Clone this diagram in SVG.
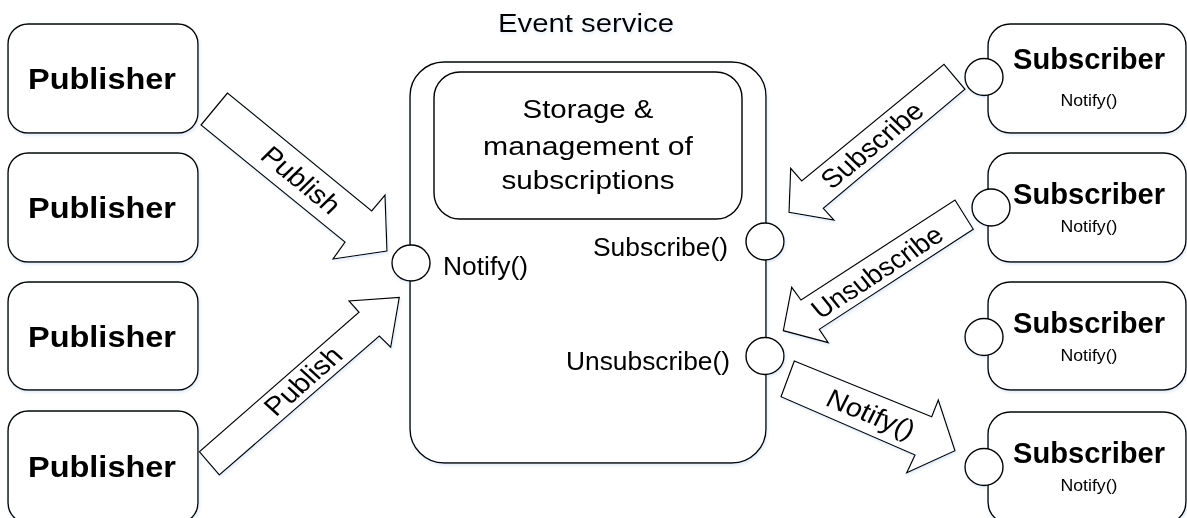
<svg xmlns="http://www.w3.org/2000/svg" width="1187" height="518" viewBox="0 0 1187 518">
  <style>
    .box { fill: #ffffff; stroke: #000000; stroke-width: 1.4; }
    .port { fill: #ffffff; stroke: #000000; stroke-width: 1.4; }
    .arrow { fill: #ffffff; stroke: #000000; stroke-width: 1.2; stroke-linejoin: miter; }
    text { font-family: "Liberation Sans", Arial, sans-serif; fill: #000000; }
    .big { font-size: 29px; font-weight: bold; text-anchor: middle; }
    .lbl { font-size: 26px; }
    .mid { text-anchor: middle; }
    .small { font-size: 17px; text-anchor: middle; }
  </style>
  <defs>
    <filter id="glow" x="-10%" y="-10%" width="125%" height="135%">
      <feGaussianBlur in="SourceAlpha" stdDeviation="1.5"/>
      <feOffset dx="1" dy="2" result="blur"/>
      <feFlood flood-color="#8fb3e0" flood-opacity="0.25"/>
      <feComposite in2="blur" operator="in"/>
      <feMerge>
        <feMergeNode/>
        <feMergeNode in="SourceGraphic"/>
      </feMerge>
    </filter>
  </defs>
  <rect width="1187" height="518" fill="#ffffff"/>

  <g filter="url(#glow)">
    <!-- Publishers -->
    <g id="publisher1">
      <rect class="box" x="8" y="24" width="190" height="109" rx="20"/>
      <text class="big" x="102" y="89" textLength="148" lengthAdjust="spacingAndGlyphs">Publisher</text>
    </g>
    <g id="publisher2">
      <rect class="box" x="8" y="153" width="190" height="109" rx="20"/>
      <text class="big" x="102" y="218" textLength="148" lengthAdjust="spacingAndGlyphs">Publisher</text>
    </g>
    <g id="publisher3">
      <rect class="box" x="8" y="282" width="190" height="108" rx="20"/>
      <text class="big" x="102" y="347" textLength="148" lengthAdjust="spacingAndGlyphs">Publisher</text>
    </g>
    <g id="publisher4">
      <rect class="box" x="8" y="411" width="190" height="112" rx="20"/>
      <text class="big" x="102" y="477" textLength="148" lengthAdjust="spacingAndGlyphs">Publisher</text>
    </g>

    <!-- Event service -->
    <g id="event-service">
      <text class="lbl mid" x="586" y="32" font-size="27" textLength="176" lengthAdjust="spacingAndGlyphs">Event service</text>
      <rect class="box" x="410" y="62" width="356" height="401" rx="34"/>
      <g id="storage">
        <rect class="box" x="434" y="72" width="308" height="147" rx="26"/>
        <text class="lbl mid" x="588" y="118" textLength="131" lengthAdjust="spacingAndGlyphs">Storage &amp;</text>
        <text class="lbl mid" x="588" y="155" textLength="210" lengthAdjust="spacingAndGlyphs">management of</text>
        <text class="lbl mid" x="588" y="189" textLength="173" lengthAdjust="spacingAndGlyphs">subscriptions</text>
      </g>
      <text class="lbl" x="443" y="275" textLength="85" lengthAdjust="spacingAndGlyphs">Notify()</text>
      <text class="lbl" x="593" y="256" textLength="135" lengthAdjust="spacingAndGlyphs">Subscribe()</text>
      <text class="lbl" x="566" y="370" textLength="164" lengthAdjust="spacingAndGlyphs">Unsubscribe()</text>
    </g>

    <!-- Subscribers -->
    <g id="subscriber1">
      <rect class="box" x="988" y="24" width="198" height="109" rx="22"/>
      <text class="big" x="1089" y="69" textLength="152" lengthAdjust="spacingAndGlyphs">Subscriber</text>
      <text class="small" x="1089" y="106" textLength="57" lengthAdjust="spacingAndGlyphs">Notify()</text>
    </g>
    <g id="subscriber2">
      <rect class="box" x="988" y="153" width="198" height="109" rx="22"/>
      <text class="big" x="1089" y="204" textLength="152" lengthAdjust="spacingAndGlyphs">Subscriber</text>
      <text class="small" x="1089" y="232" textLength="57" lengthAdjust="spacingAndGlyphs">Notify()</text>
    </g>
    <g id="subscriber3">
      <rect class="box" x="988" y="282" width="198" height="108" rx="22"/>
      <text class="big" x="1089" y="333" textLength="152" lengthAdjust="spacingAndGlyphs">Subscriber</text>
      <text class="small" x="1089" y="361" textLength="57" lengthAdjust="spacingAndGlyphs">Notify()</text>
    </g>
    <g id="subscriber4">
      <rect class="box" x="988" y="412" width="198" height="112" rx="22"/>
      <text class="big" x="1089" y="463" textLength="152" lengthAdjust="spacingAndGlyphs">Subscriber</text>
      <text class="small" x="1089" y="491" textLength="57" lengthAdjust="spacingAndGlyphs">Notify()</text>
    </g>

    <!-- Block arrows -->
    <g id="connectors">
      <g id="publish-top">
        <polygon class="arrow" points="227.5,93 201,125 345,242 333,259 387,251 385,195 371.7,211"/>
        <text class="lbl mid" transform="translate(301,180) scale(1.12,1) rotate(42.4)" y="9" textLength="86" lengthAdjust="spacingAndGlyphs">Publish</text>
      </g>
      <g id="publish-bottom">
        <polygon class="arrow" points="199.3,451.7 219.3,475 379.3,336 390.7,347.3 399.3,297.3 349,301 359,312.3"/>
        <text class="lbl mid" transform="translate(303,381) scale(1.12,1) rotate(-44.4)" y="9" textLength="86" lengthAdjust="spacingAndGlyphs">Publish</text>
      </g>
      <g id="subscribe">
        <polygon class="arrow" points="944,64.3 965,89.3 823.3,208.3 834,220 789,212.3 790.7,168.3 801.7,181"/>
        <text class="lbl mid" transform="translate(872,145) scale(1.12,1) rotate(-42.6)" y="9" textLength="114" lengthAdjust="spacingAndGlyphs">Subscribe</text>
      </g>
      <g id="unsubscribe">
        <polygon class="arrow" points="955,200 973.3,229.3 819.3,329.3 828.3,342.7 783.3,330.7 791.7,287.3 801,300"/>
        <text class="lbl mid" transform="translate(877,272) scale(1.12,1) rotate(-36)" y="9" textLength="138" lengthAdjust="spacingAndGlyphs">Unsubscribe</text>
      </g>
      <g id="notify">
        <polygon class="arrow" points="794.3,361 781,396.7 915,455 906.7,472.7 955,450.7 938.3,400 931.7,416.7"/>
        <text class="lbl mid" transform="translate(871,414) scale(1.12,1) rotate(24.4)" y="9" textLength="84" lengthAdjust="spacingAndGlyphs">Notify()</text>
      </g>
    </g>

    <!-- Interface ports -->
    <g id="ports">
      <ellipse class="port" cx="411" cy="263" rx="19" ry="18"/>
      <ellipse class="port" cx="765" cy="241.5" rx="19" ry="18.5"/>
      <ellipse class="port" cx="765" cy="356" rx="19" ry="18.5"/>
      <ellipse class="port" cx="984" cy="77" rx="19" ry="18.5"/>
      <ellipse class="port" cx="991" cy="207.5" rx="19" ry="18.5"/>
      <ellipse class="port" cx="984" cy="337" rx="19" ry="18.5"/>
      <ellipse class="port" cx="984" cy="467" rx="19" ry="18.5"/>
    </g>
  </g>
</svg>
